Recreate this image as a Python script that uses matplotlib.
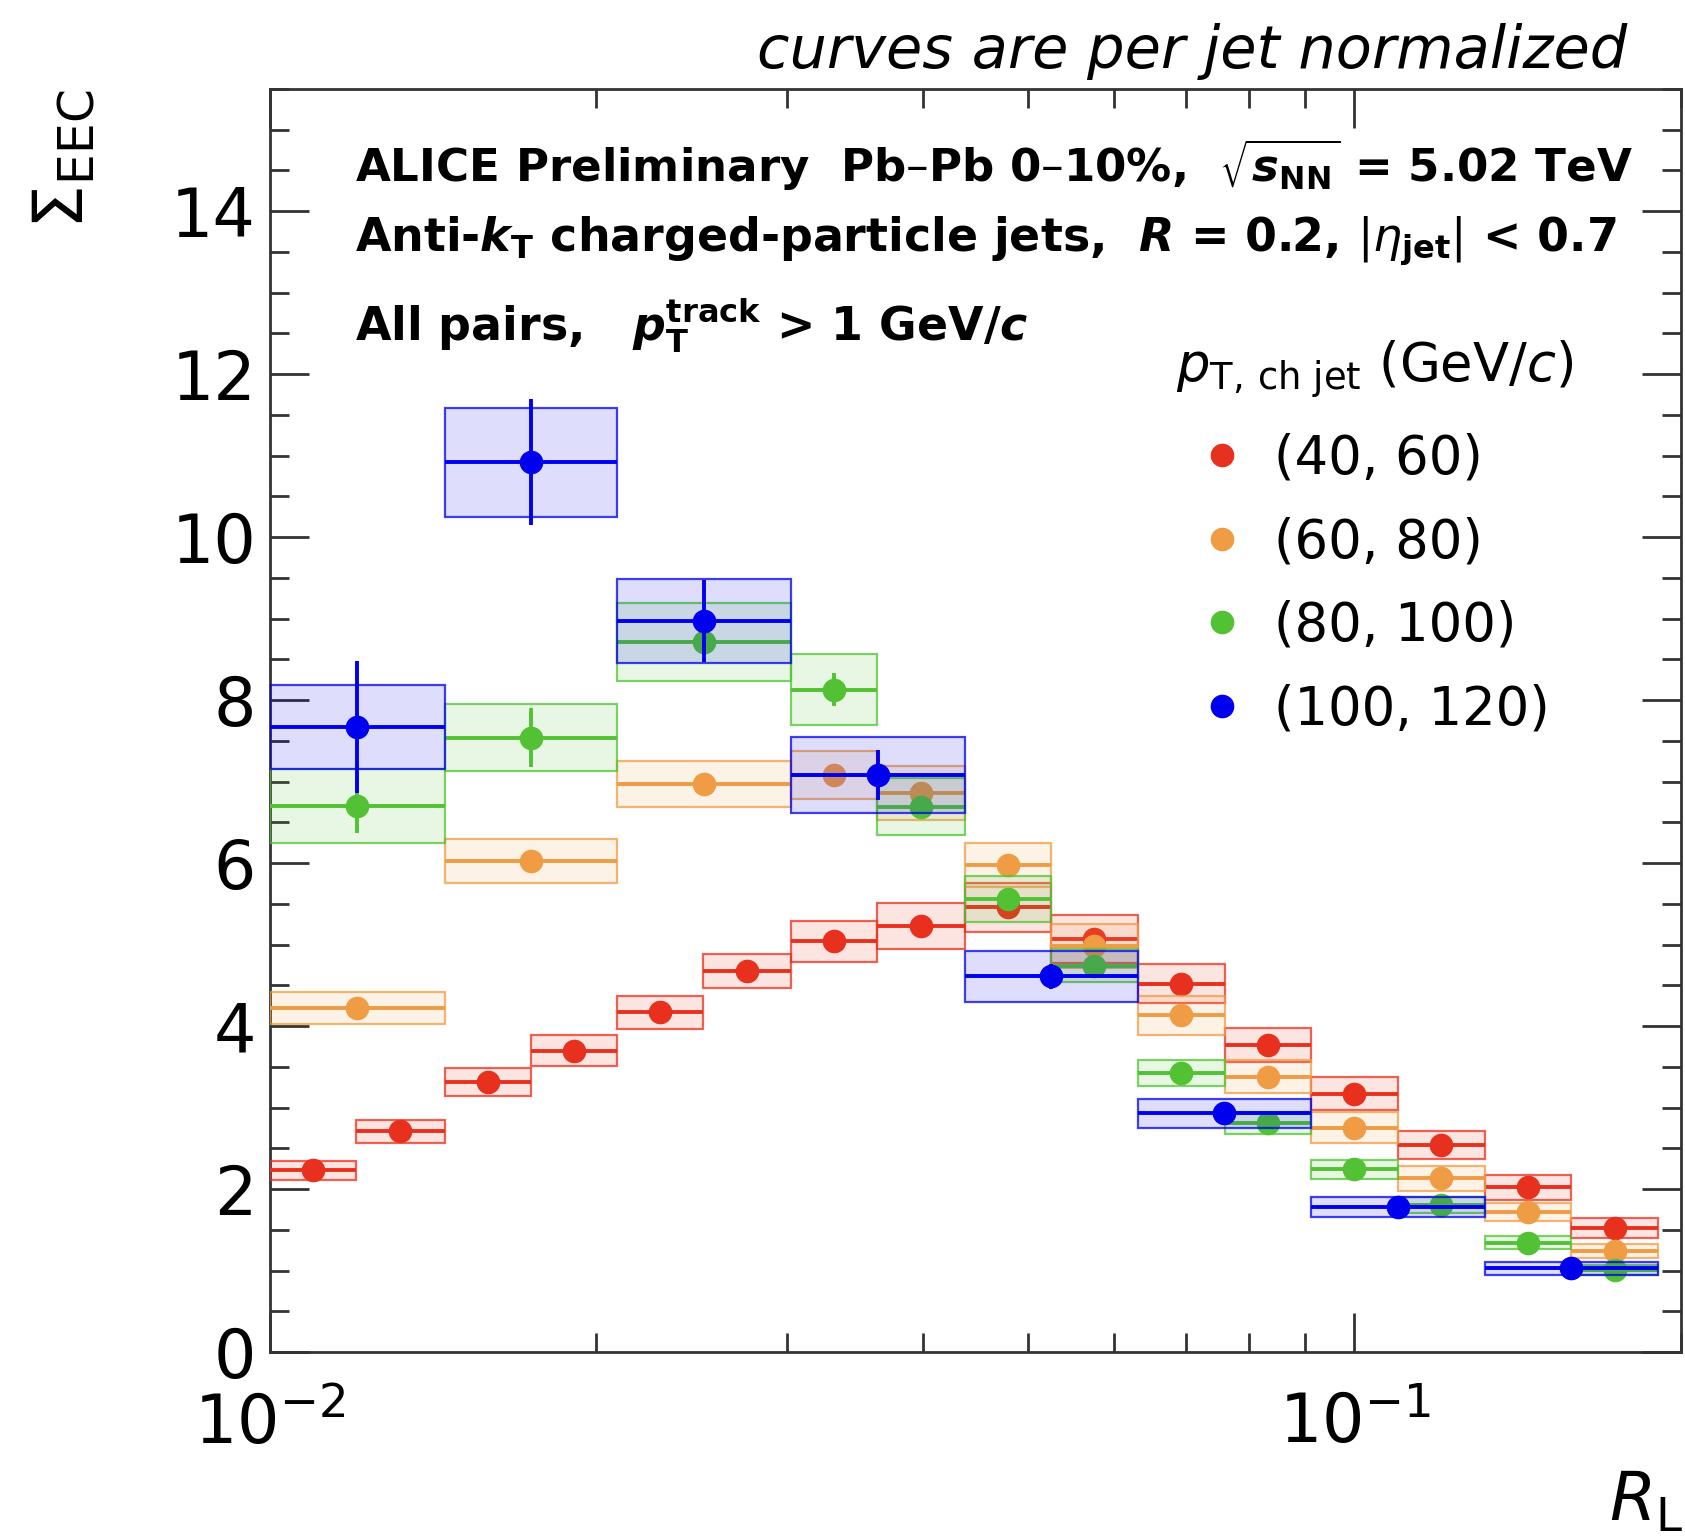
import numpy as np
import matplotlib
matplotlib.use("Agg")
from matplotlib import pyplot as plt
from matplotlib.colors import to_rgba
from matplotlib.lines import Line2D
from matplotlib.ticker import MultipleLocator, LogLocator, NullFormatter

plt.rcParams['font.family'] = ['DejaVu Sans']
plt.rcParams['mathtext.fontset'] = 'dejavusans'

# R_L binning (log spaced)
RL_EDGES = [0.0100, 0.0120, 0.0145, 0.0174, 0.0209, 0.0251, 0.0302, 0.0363,
            0.0437, 0.0525, 0.0631, 0.0759, 0.0912, 0.1096, 0.1318, 0.1585, 0.1905]

# pT,ch jet (40, 60) GeV/c
red_edges = RL_EDGES
red_y = [2.23, 2.71, 3.31, 3.70, 4.17, 4.68, 5.04, 5.23, 5.46, 5.07, 4.52, 3.77, 3.17, 2.54, 2.02, 1.52]
red_sys = [0.12, 0.14, 0.17, 0.19, 0.20, 0.21, 0.25, 0.28, 0.30, 0.29, 0.24, 0.21, 0.20, 0.17, 0.15, 0.12]
red_stat = [0.03, 0.03, 0.03, 0.03, 0.03, 0.03, 0.03, 0.03, 0.03, 0.03, 0.03, 0.03, 0.03, 0.02, 0.02, 0.02]

# (60, 80)
orange_edges = [0.0100, 0.0145, 0.0209, 0.0302, 0.0363, 0.0437, 0.0525, 0.0631,
                0.0759, 0.0912, 0.1096, 0.1318, 0.1585, 0.1905]
orange_y = [4.22, 6.02, 6.97, 7.08, 6.86, 5.98, 4.98, 4.13, 3.38, 2.75, 2.13, 1.72, 1.24]
orange_sys = [0.20, 0.27, 0.28, 0.29, 0.33, 0.27, 0.27, 0.24, 0.20, 0.19, 0.15, 0.11, 0.09]
orange_stat = [0.12, 0.10, 0.08, 0.08, 0.08, 0.06, 0.05, 0.04, 0.04, 0.03, 0.03, 0.02, 0.02]

# (80, 100)
green_edges = orange_edges
green_y = [6.70, 7.54, 8.71, 8.13, 6.69, 5.56, 4.74, 3.42, 2.81, 2.24, 1.80, 1.34, 1.01]
green_sys = [0.45, 0.41, 0.48, 0.44, 0.35, 0.28, 0.20, 0.16, 0.14, 0.12, 0.10, 0.08, 0.06]
green_stat = [0.33, 0.36, 0.15, 0.20, 0.08, 0.06, 0.05, 0.04, 0.03, 0.03, 0.03, 0.02, 0.02]

# (100, 120)
blue_edges = [0.0100, 0.0145, 0.0209, 0.0302, 0.0437, 0.0631, 0.0912, 0.1318, 0.1905]
blue_y = [7.67, 10.92, 8.97, 7.08, 4.61, 2.93, 1.78, 1.03]
blue_sys = [0.52, 0.67, 0.52, 0.47, 0.31, 0.18, 0.12, 0.08]
blue_stat = [0.81, 0.77, 0.50, 0.31, 0.15, 0.06, 0.04, 0.03]

labels = ['(40, 60)', '(60, 80)', '(80, 100)', '(100, 120)']
colors = ['#e8301e', '#ef9c45', '#52c234', '#0000ee']


def draw_series(ax, edges, y, sys, stat, color, z):
    lo = np.array(edges[:-1])
    hi = np.array(edges[1:])
    y = np.array(y)
    sys = np.array(sys)
    xc = np.sqrt(lo * hi)
    # systematic boxes
    ax.bar(lo, 2 * sys, width=hi - lo, bottom=y - sys, align='edge',
           color=to_rgba(color, 0.13), linewidth=0, zorder=z)
    ax.bar(lo, 2 * sys, width=hi - lo, bottom=y - sys, align='edge', fill=False,
           edgecolor=to_rgba(color, 0.75), linewidth=1.6, zorder=z + 0.1)
    # points with bin width and stat. errors
    ax.errorbar(xc, y, xerr=[xc - lo, hi - xc], yerr=stat, fmt='o', color=color,
                ms=16, elinewidth=2.8, capsize=0, zorder=z + 0.2)


fig = plt.figure(figsize=(16.85, 15.39), dpi=100)
ax = fig.add_axes([0.1602, 0.1215, 0.8374, 0.8207])

draw_series(ax, red_edges, red_y, red_sys, red_stat, colors[0], 3)
draw_series(ax, orange_edges, orange_y, orange_sys, orange_stat, colors[1], 4)
draw_series(ax, green_edges, green_y, green_sys, green_stat, colors[2], 5)
draw_series(ax, blue_edges, blue_y, blue_sys, blue_stat, colors[3], 6)

ax.set_xscale('log')
ax.set_xlim(0.01, 0.2)
ax.set_ylim(0, 15.5)
ax.yaxis.set_major_locator(MultipleLocator(2))
ax.yaxis.set_minor_locator(MultipleLocator(0.5))
ax.xaxis.set_major_locator(LogLocator(base=10, numticks=10))
ax.xaxis.set_minor_locator(LogLocator(base=10, subs=np.arange(2, 10), numticks=20))
ax.xaxis.set_minor_formatter(NullFormatter())

axcol = '#333333'
for sp in ax.spines.values():
    sp.set_linewidth(2)
    sp.set_color(axcol)
ax.tick_params(which='both', direction='in', top=True, right=True, color=axcol, width=2)
ax.tick_params(which='major', length=28, labelsize=48)
ax.tick_params(which='minor', length=14)
ax.tick_params(axis='x', pad=28)
ax.tick_params(axis='y', pad=10)

fig.text(0.038, 0.9415, r'$\Sigma_{\rm EEC}$', rotation=90, ha='center', va='top', fontsize=50)
fig.text(0.999, 0.012, r'$R_{\rm L}$', ha='right', va='baseline', fontsize=48)

fig.text(0.966, 0.9558, 'curves are per jet normalized', style='italic',
         ha='right', va='baseline', fontsize=42.5)

tx = 0.2107
fig.text(tx, 0.8817, r'ALICE Preliminary  Pb–Pb 0–10%,  $\sqrt{\mathbfit{s}_{\mathbf{NN}}}$ = 5.02 TeV',
         fontweight='bold', fontsize=32.5, va='baseline')
fig.text(tx, 0.8363, r'Anti-$\mathbfit{k}_{\mathbf{T}}$ charged-particle jets,  $\mathbfit{R}$ = 0.2, $|\eta_{\mathbf{jet}}|$ < 0.7',
         fontweight='bold', fontsize=33, va='baseline')
fig.text(tx, 0.779, r'All pairs,   $\mathbfit{p}_{\mathbf{T}}^{\mathbf{track}}$ > 1 GeV/$\mathbfit{c}$',
         fontweight='bold', fontsize=33, va='baseline')

handles = [Line2D([], [], marker='o', ls='none', color=c, ms=16) for c in colors]
leg = ax.legend(handles, labels, title=r'$p_{\rm T,\,ch\ jet}$ (GeV/$c$)',
                loc='upper left', bbox_to_anchor=(0.682, 0.797), bbox_transform=fig.transFigure,
                frameon=False, borderpad=0, fontsize=38, title_fontsize=38,
                alignment='left', handlelength=1.75, handletextpad=0.12, labelspacing=0.6)

fig.savefig('out.png', dpi=100)
